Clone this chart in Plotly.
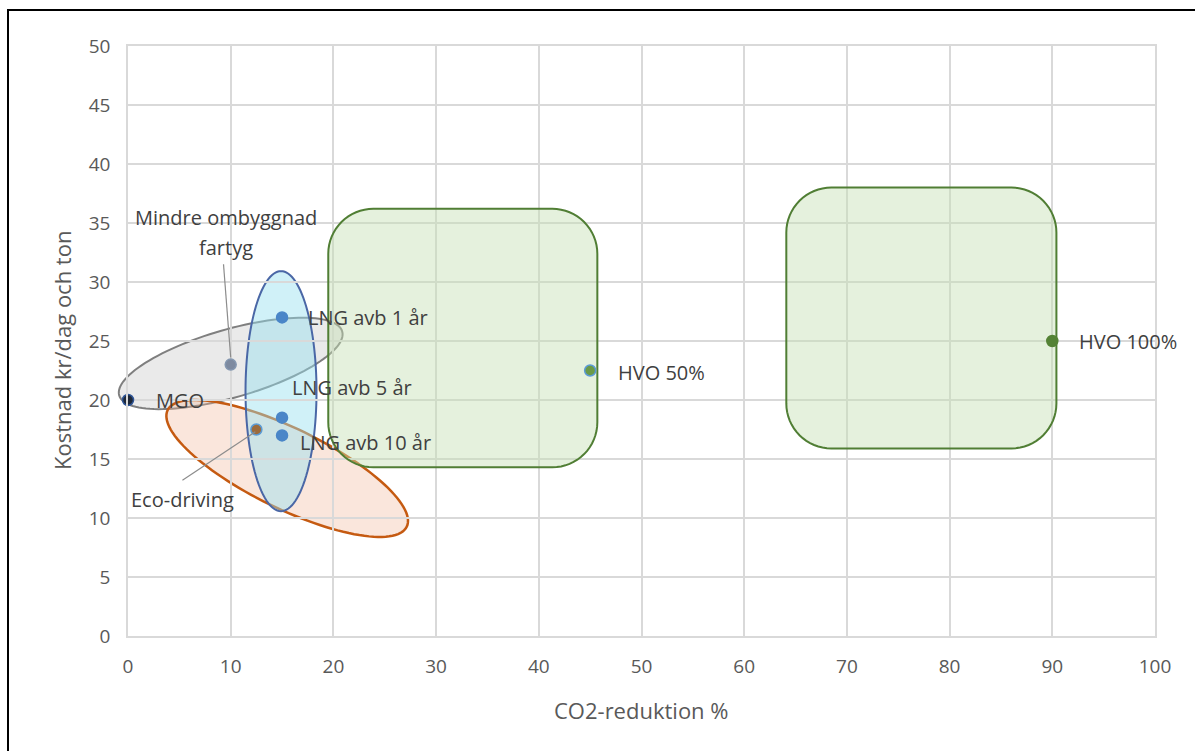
import math
import plotly.graph_objects as go

# --- data -------------------------------------------------------------
names = ["MGO", "Mindre ombyggnad fartyg", "LNG avb 1 år", "LNG avb 5 år",
         "LNG avb 10 år", "Eco-driving", "HVO 50%", "HVO 100%"]
co2_reduction = [0, 10, 15, 15, 15, 12.5, 45, 90]
cost = [20, 23, 27, 18.5, 17, 17.5, 22.5, 25]
dot_colors = ["#1e2838", "#7d8aa0", "#4a86c8", "#4a86c8",
              "#4a86c8", "#9c6b3c", "#6a9a48", "#548235"]
dot_edges = ["#2f5597", "#8497b0", "#4a86c8", "#4a86c8",
             "#4a86c8", "#5b9bd5", "#5b9bd5", "#548235"]

x_ticks = list(range(0, 101, 10))
y_ticks = list(range(0, 51, 5))

# --- canvas geometry --------------------------------------------------
W, H = 1195, 751
ML, MR, MT, MB = 128, 40, 46, 115
X_RANGE = (0, 100)
Y_RANGE = (0, 50)
PW, PH = W - ML - MR, H - MT - MB
KX = PW / (X_RANGE[1] - X_RANGE[0])   # px per x unit
KY = PH / (Y_RANGE[1] - Y_RANGE[0])   # px per y unit

FONT = "'Open Sans', Lato, sans-serif"
TXT = "#404040"
TICK = "#595959"


def to_paper(x, y):
    return ((x - X_RANGE[0]) / (X_RANGE[1] - X_RANGE[0]),
            (y - Y_RANGE[0]) / (Y_RANGE[1] - Y_RANGE[0]))


def ellipse_path(cx, cy, a_px, b_px, angle_deg, n=120):
    # built in paper space so the outline may run past the axes
    th = math.radians(angle_deg)
    pts = []
    for i in range(n + 1):
        t = 2 * math.pi * i / n
        dx = a_px * math.cos(t) * math.cos(th) - b_px * math.sin(t) * math.sin(th)
        dy = a_px * math.cos(t) * math.sin(th) + b_px * math.sin(t) * math.cos(th)
        pts.append(to_paper(cx + dx / KX, cy + dy / KY))
    return "M " + " L ".join(f"{x:.5f},{y:.5f}" for x, y in pts) + " Z"


def rounded_rect_path(x0, x1, y0, y1, r_px, n=16):
    rx, ry = r_px / KX, r_px / KY
    corners = [
        (x1 - rx, y1 - ry, 0),     # top-right
        (x0 + rx, y1 - ry, 90),    # top-left
        (x0 + rx, y0 + ry, 180),   # bottom-left
        (x1 - rx, y0 + ry, 270),   # bottom-right
    ]
    pts = []
    for cx, cy, start in corners:
        for i in range(n + 1):
            a = math.radians(start + 90 * i / n)
            pts.append((cx + rx * math.cos(a), cy + ry * math.sin(a)))
    return "M " + " L ".join(f"{x:.4f},{y:.4f}" for x, y in pts) + " Z"


fig = go.Figure()

# --- highlighted regions ---------------------------------------------
shapes = []
green_boxes = [(19.5, 45.7, 14.3, 36.2), (64.1, 90.4, 15.9, 38.0)]
for x0, x1, y0, y1 in green_boxes:
    shapes.append(dict(type="path", path=rounded_rect_path(x0, x1, y0, y1, 45),
                       xref="x", yref="y", layer="between",
                       fillcolor="rgba(197,224,180,0.45)",
                       line=dict(color="#507e34", width=2)))

# gray: around the small retrofit option
shapes.append(dict(type="path", path=ellipse_path(10.0, 23.1, 116, 34, 16),
                   xref="paper", yref="paper", layer="between",
                   fillcolor="rgba(190,190,190,0.33)",
                   line=dict(color="#7f7f7f", width=2)))
# orange: eco-driving spread
shapes.append(dict(type="path", path=ellipse_path(15.5, 14.2, 133, 40, -26),
                   xref="paper", yref="paper", layer="between",
                   fillcolor="rgba(240,180,150,0.33)",
                   line=dict(color="#c55a11", width=2.5)))
# blue: LNG payback variants
shapes.append(dict(type="path", path=ellipse_path(14.9, 20.75, 120, 35.5, 90),
                   xref="paper", yref="paper", layer="between",
                   fillcolor="rgba(150,225,240,0.45)",
                   line=dict(color="#4a67a6", width=2)))

# leader lines for the two callout labels
shapes.append(dict(type="line", xref="x", yref="y", x0=9.3, y0=31.5, x1=10.0, y1=23.6,
                   line=dict(color="#8c8c8c", width=1.2)))
shapes.append(dict(type="line", xref="x", yref="y", x0=5.3, y0=13.2, x1=12.4, y1=17.3,
                   line=dict(color="#8c8c8c", width=1.2)))

# outer frame
shapes.append(dict(type="rect", xref="paper", yref="paper",
                   x0=(8 - ML) / PW, x1=(W + 4 - ML) / PW,
                   y0=-(MB + 4) / PH, y1=(H - MB - 10) / PH,
                   line=dict(color="#000000", width=2), fillcolor="rgba(0,0,0,0)"))

fig.add_trace(go.Scatter(
    x=co2_reduction, y=cost, mode="markers", cliponaxis=False,
    marker=dict(size=11, color=dot_colors, line=dict(color=dot_edges, width=1.5)),
    hovertext=names, hoverinfo="text", showlegend=False,
))

# --- point labels -----------------------------------------------------
label_offsets = {
    "MGO": (26, 0),
    "LNG avb 1 år": (24, 0),
    "LNG avb 5 år": (8, 30),
    "LNG avb 10 år": (16, -7),
    "HVO 50%": (26, -2),
    "HVO 100%": (25, 0),
}
LBL = 20
annotations = []
for name, x, y in zip(names, co2_reduction, cost):
    if name in label_offsets:
        dx, dy = label_offsets[name]
        annotations.append(dict(x=x, y=y, xref="x", yref="y", text=name,
                                showarrow=False, xanchor="left", yanchor="middle",
                                xshift=dx, yshift=dy,
                                font=dict(family=FONT, size=LBL, color=TXT)))

annotations += [
    dict(x=9.5, y=35.5, xref="x", yref="y", text="Mindre ombyggnad", showarrow=False,
         font=dict(family=FONT, size=LBL, color=TXT)),
    dict(x=9.5, y=32.95, xref="x", yref="y", text="fartyg", showarrow=False,
         font=dict(family=FONT, size=LBL, color=TXT)),
    dict(x=5.3, y=11.6, xref="x", yref="y", text="Eco-driving", showarrow=False,
         font=dict(family=FONT, size=LBL, color=TXT)),
    # axis titles
    dict(x=(641 - ML) / PW, y=-(710 - (H - MB)) / PH, xref="paper", yref="paper",
         text="CO2-reduktion %", showarrow=False, yanchor="middle",
         font=dict(family=FONT, size=22, color=TICK)),
    dict(x=-(ML - 62) / PW, y=(H - MB - 351) / PH,
         xref="paper", yref="paper", text="Kostnad kr/dag och ton", textangle=-90,
         showarrow=False, xanchor="center", yanchor="middle",
         font=dict(family=FONT, size=22, color=TICK)),
]

axis_common = dict(showgrid=True, gridcolor="#d9d9d9", gridwidth=1.5,
                   showline=True, linecolor="#d9d9d9", linewidth=1.5, mirror=True,
                   zeroline=False, ticks="",
                   tickfont=dict(family=FONT, size=19, color=TICK))

fig.update_layout(
    width=W, height=H,
    margin=dict(l=ML, r=MR, t=MT, b=MB),
    paper_bgcolor="white", plot_bgcolor="white",
    shapes=shapes, annotations=annotations,
    xaxis=dict(range=list(X_RANGE), tickvals=x_ticks, ticklabelstandoff=12, **axis_common),
    yaxis=dict(range=list(Y_RANGE), tickvals=y_ticks, ticklabelstandoff=12, **axis_common),
)

fig.write_html("out.html")
